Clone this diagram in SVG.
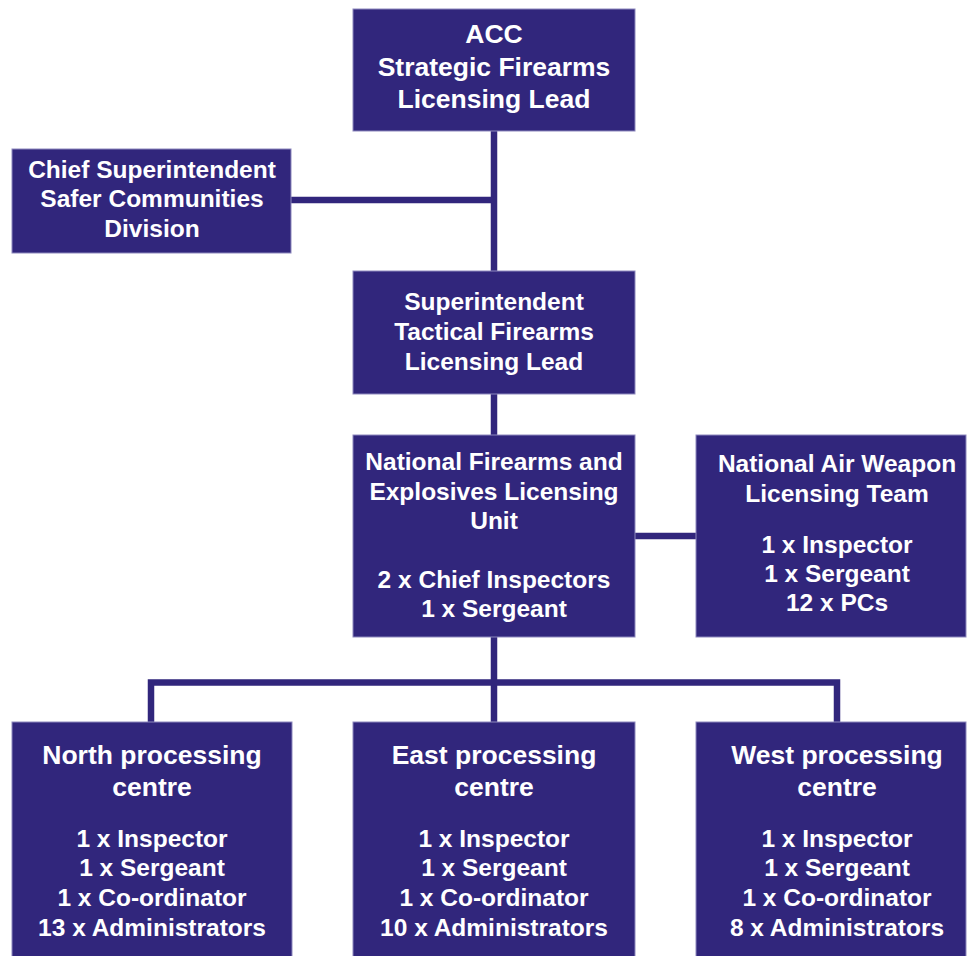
<svg xmlns="http://www.w3.org/2000/svg" width="967" height="956" viewBox="0 0 967 956">
<style>
.box{fill:#31267c;stroke:#8d88bd;stroke-width:1}
.t{font-family:"Liberation Sans",Arial,sans-serif;font-weight:bold;fill:#ffffff;text-anchor:middle;font-size:24.5px}
.h{font-size:26.5px}
.c{stroke:#31267c;stroke-width:6.5;fill:none}
</style>
<rect width="967" height="956" fill="#ffffff"/>
<g id="connectors">
<line class="c" x1="494" y1="131" x2="494" y2="271"/>
<line class="c" x1="291" y1="200" x2="494" y2="200"/>
<line class="c" x1="494" y1="394" x2="494" y2="435"/>
<line class="c" x1="635" y1="536" x2="696" y2="536"/>
<line class="c" x1="494" y1="637" x2="494" y2="722"/>
<polyline class="c" points="151,722 151,682.5 837,682.5 837,722"/>
</g>
<g id="acc">
<rect class="box" x="353" y="9" width="282" height="122"/>
<text class="t h" x="494" y="43">ACC</text>
<text class="t h" x="494" y="76">Strategic Firearms</text>
<text class="t h" x="494" y="108">Licensing Lead</text>
</g>
<g id="chief-supt">
<rect class="box" x="12" y="149" width="279" height="104"/>
<text class="t" x="152" y="178">Chief Superintendent</text>
<text class="t" x="152" y="207">Safer Communities</text>
<text class="t" x="152" y="237">Division</text>
</g>
<g id="supt">
<rect class="box" x="353" y="271" width="282" height="123"/>
<text class="t" x="494" y="310">Superintendent</text>
<text class="t" x="494" y="340">Tactical Firearms</text>
<text class="t" x="494" y="370">Licensing Lead</text>
</g>
<g id="nfelu">
<rect class="box" x="353" y="435" width="282" height="202"/>
<text class="t" x="494" y="470">National Firearms and</text>
<text class="t" x="494" y="500">Explosives Licensing</text>
<text class="t" x="494" y="529">Unit</text>
<text class="t" x="494" y="588">2 x Chief Inspectors</text>
<text class="t" x="494" y="617">1 x Sergeant</text>
</g>
<g id="nawlt">
<rect class="box" x="696" y="435" width="270" height="202"/>
<text class="t" x="837" y="472">National Air Weapon</text>
<text class="t" x="837" y="502">Licensing Team</text>
<text class="t" x="837" y="553">1 x Inspector</text>
<text class="t" x="837" y="582">1 x Sergeant</text>
<text class="t" x="837" y="611">12 x PCs</text>
</g>
<g id="north">
<rect class="box" x="12" y="722" width="280" height="240"/>
<text class="t h" x="152" y="764">North processing</text>
<text class="t h" x="152" y="796">centre</text>
<text class="t" x="152" y="847">1 x Inspector</text>
<text class="t" x="152" y="876">1 x Sergeant</text>
<text class="t" x="152" y="906">1 x Co-ordinator</text>
<text class="t" x="152" y="936">13 x Administrators</text>
</g>
<g id="east">
<rect class="box" x="353" y="722" width="282" height="240"/>
<text class="t h" x="494" y="764">East processing</text>
<text class="t h" x="494" y="796">centre</text>
<text class="t" x="494" y="847">1 x Inspector</text>
<text class="t" x="494" y="876">1 x Sergeant</text>
<text class="t" x="494" y="906">1 x Co-ordinator</text>
<text class="t" x="494" y="936">10 x Administrators</text>
</g>
<g id="west">
<rect class="box" x="696" y="722" width="270" height="240"/>
<text class="t h" x="837" y="764">West processing</text>
<text class="t h" x="837" y="796">centre</text>
<text class="t" x="837" y="847">1 x Inspector</text>
<text class="t" x="837" y="876">1 x Sergeant</text>
<text class="t" x="837" y="906">1 x Co-ordinator</text>
<text class="t" x="837" y="936">8 x Administrators</text>
</g>
</svg>
